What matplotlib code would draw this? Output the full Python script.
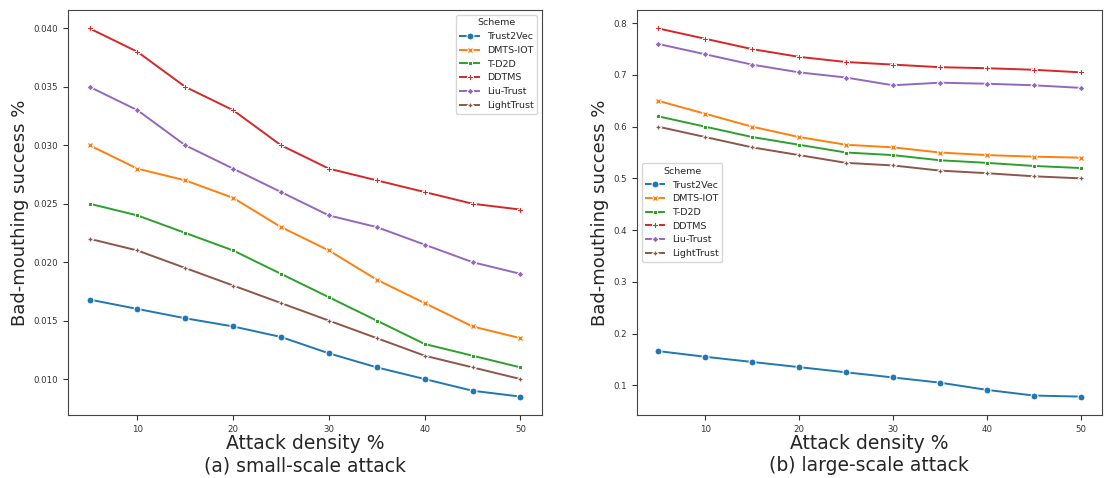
import numpy as np
import pandas as pd
import matplotlib
matplotlib.use("Agg")
import matplotlib.pyplot as plt
import seaborn as sns

density = [5, 10, 15, 20, 25, 30, 35, 40, 45, 50]
schemes = ["Trust2Vec", "DMTS-IOT", "T-D2D", "DDTMS", "Liu-Trust", "LightTrust"]

# (a) small-scale attack
small_trust2vec = [0.0168, 0.016, 0.0152, 0.0145, 0.0136, 0.0122, 0.011, 0.010, 0.009, 0.0085]
small_dmts = [0.030, 0.028, 0.027, 0.0255, 0.023, 0.021, 0.0185, 0.0165, 0.0145, 0.0135]
small_td2d = [0.025, 0.024, 0.0225, 0.021, 0.019, 0.017, 0.015, 0.013, 0.012, 0.011]
small_ddtms = [0.040, 0.038, 0.035, 0.033, 0.030, 0.028, 0.027, 0.026, 0.025, 0.0245]
small_liu = [0.035, 0.033, 0.030, 0.028, 0.026, 0.024, 0.023, 0.0215, 0.020, 0.019]
small_light = [0.022, 0.021, 0.0195, 0.018, 0.0165, 0.015, 0.0135, 0.012, 0.011, 0.010]

# (b) large-scale attack
large_trust2vec = [0.166, 0.155, 0.145, 0.135, 0.125, 0.115, 0.105, 0.091, 0.080, 0.078]
large_dmts = [0.65, 0.625, 0.60, 0.58, 0.565, 0.56, 0.55, 0.545, 0.542, 0.54]
large_td2d = [0.62, 0.60, 0.58, 0.565, 0.55, 0.545, 0.535, 0.53, 0.524, 0.52]
large_ddtms = [0.79, 0.77, 0.75, 0.735, 0.725, 0.72, 0.715, 0.713, 0.71, 0.705]
large_liu = [0.76, 0.74, 0.72, 0.705, 0.695, 0.68, 0.685, 0.683, 0.68, 0.675]
large_light = [0.60, 0.58, 0.56, 0.545, 0.53, 0.525, 0.515, 0.51, 0.504, 0.50]


def to_long(series):
    rows = []
    for name, vals in zip(schemes, series):
        for x, y in zip(density, vals):
            rows.append({"density": x, "value": y, "Scheme": name})
    return pd.DataFrame(rows)


small_df = to_long([small_trust2vec, small_dmts, small_td2d, small_ddtms, small_liu, small_light])
large_df = to_long([large_trust2vec, large_dmts, large_td2d, large_ddtms, large_liu, large_light])

plt.rcParams["text.color"] = "#262626"
plt.rcParams["axes.labelcolor"] = "#262626"
plt.rcParams["xtick.color"] = "#333333"
plt.rcParams["ytick.color"] = "#333333"
plt.rcParams["axes.edgecolor"] = "#444444"

fig = plt.figure(figsize=(11.04, 4.78), dpi=100)
ax1 = fig.add_axes([0.0616, 0.1318, 0.4293, 0.8473])
ax2 = fig.add_axes([0.577, 0.1318, 0.421, 0.8473])

panels = [
    (ax1, small_df, "Attack density %\n(a) small-scale attack", "upper right"),
    (ax2, large_df, "Attack density %\n(b) large-scale attack", "center left"),
]

for ax, df, xlabel, loc in panels:
    sns.lineplot(data=df, x="density", y="value", hue="Scheme", style="Scheme",
                 markers=True, dashes=False, ax=ax, markersize=5, linewidth=1.4)
    ax.set_xlabel(xlabel, fontsize=13.5, linespacing=1.25, labelpad=0)
    ax.set_ylabel("Bad-mouthing success %", fontsize=13, labelpad=3)
    ax.tick_params(labelsize=6.2)
    ax.legend(title="Scheme", loc=loc, fontsize=6.8, title_fontsize=6.8)

fig.savefig("out.png", dpi=100)
